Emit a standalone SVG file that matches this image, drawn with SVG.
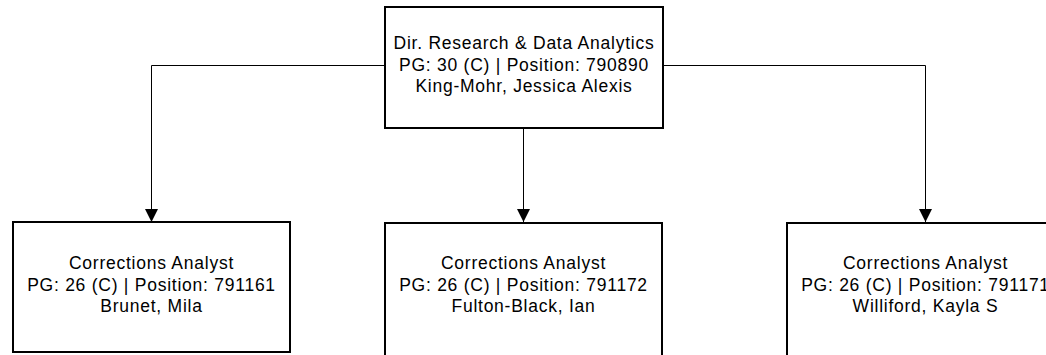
<svg xmlns="http://www.w3.org/2000/svg" width="1046" height="355" viewBox="0 0 1046 355">
<style>
.box{fill:#fff;stroke:#000;stroke-width:2}
.t{font-family:"Liberation Sans",Arial,sans-serif;font-size:17.5px;letter-spacing:0.75px;fill:#000;text-anchor:middle}
.c{fill:none;stroke:#000;stroke-width:1}
</style>
<defs>
<marker id="arr" markerWidth="13" markerHeight="13" refX="13" refY="6.5" orient="auto" markerUnits="userSpaceOnUse">
<path d="M0,0 L13,6.5 L0,13 Z" fill="#000"/>
</marker>
</defs>
<rect width="1046" height="355" fill="#fff"/>
<g id="connectors">
<path class="c" d="M385,65.5 H151.5 V222" marker-end="url(#arr)"/>
<path class="c" d="M523.5,128 V222" marker-end="url(#arr)"/>
<path class="c" d="M663,65.5 H925.5 V222" marker-end="url(#arr)"/>
</g>
<g id="n0">
<rect class="box" x="385" y="7" width="278" height="121"/>
<text class="t" x="524" y="49">Dir. Research &amp; Data Analytics</text>
<text class="t" x="524" y="71">PG: 30 (C) | Position: 790890</text>
<text class="t" x="524" y="92">King-Mohr, Jessica Alexis</text>
</g>
<g id="n1">
<rect class="box" x="13" y="222" width="277" height="130"/>
<text class="t" x="151.5" y="269">Corrections Analyst</text>
<text class="t" x="151.5" y="291">PG: 26 (C) | Position: 791161</text>
<text class="t" x="151.5" y="312">Brunet, Mila</text>
</g>
<g id="n2">
<rect class="box" x="385" y="223" width="277" height="140"/>
<text class="t" x="523.5" y="269">Corrections Analyst</text>
<text class="t" x="523.5" y="291">PG: 26 (C) | Position: 791172</text>
<text class="t" x="523.5" y="312">Fulton-Black, Ian</text>
</g>
<g id="n3">
<rect class="box" x="787" y="223" width="277" height="140"/>
<text class="t" x="925.5" y="269">Corrections Analyst</text>
<text class="t" x="925.5" y="291">PG: 26 (C) | Position: 791171</text>
<text class="t" x="925.5" y="312">Williford, Kayla S</text>
</g>
</svg>
